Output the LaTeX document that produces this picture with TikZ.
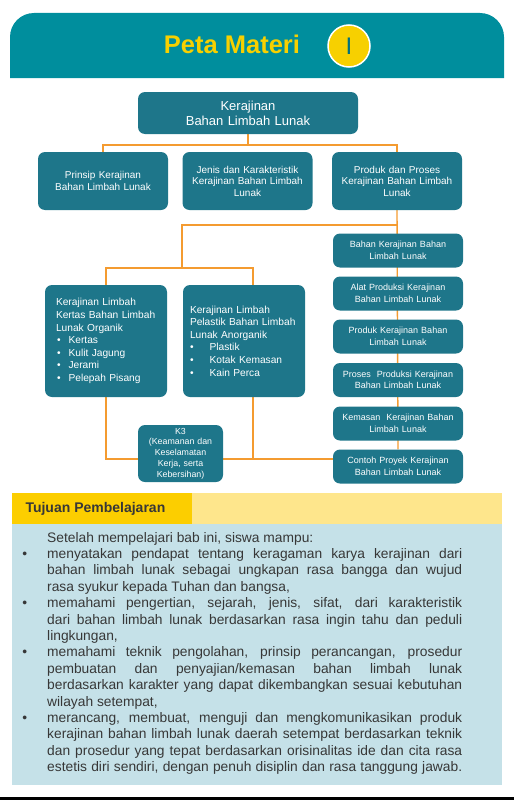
\documentclass[tikz,border=0pt]{standalone}
\usepackage{fontspec}
\setmainfont{Liberation Sans}
\usetikzlibrary{backgrounds}
\definecolor{tealjudul}{RGB}{0,142,157}
\definecolor{tealkotak}{RGB}{30,118,138}
\definecolor{kuning}{RGB}{247,208,0}
\definecolor{oranye}{RGB}{244,155,48}
\definecolor{kuningtua}{RGB}{252,206,0}
\definecolor{kuningmuda}{RGB}{254,230,140}
\definecolor{birumuda}{RGB}{197,225,232}
\definecolor{abutua}{RGB}{55,55,55}
\newcommand\butir{\leavevmode\llap{\textbullet\hspace{20pt}}}
\begin{document}
\begin{tikzpicture}[x=1pt,y=-1pt,
	kotak/.style={fill=tealkotak,rounded corners=7pt,text=white,align=center,inner sep=2pt},
	kecil/.style={kotak,minimum width=130pt,minimum height=34pt,text width=126pt,font=\fontsize{9}{11.5}\selectfont},
	sedang/.style={kotak,minimum width=130pt,minimum height=58pt,text width=126pt,font=\fontsize{10}{11.5}\selectfont},
	daftar/.style={kotak,align=left,minimum width=122pt,minimum height=112pt,inner xsep=7pt,text width=108pt,font=\fontsize{10.2}{12.6}\selectfont},
	garis/.style={draw=oranye,line width=1.4pt}]
	\useasboundingbox (0,0) rectangle (514,800);
	%Judul
	\fill[tealjudul] (10,78) [rounded corners=24pt] -- (10,13) -- (504,13) [sharp corners] -- (504,78) -- cycle;
	\node[text=kuning,font=\fontsize{25.5}{28}\bfseries\selectfont] (judul) at (232,44) {Peta Materi};
	\node[circle,fill=kuning,draw=white,line width=1.5pt,minimum size=42pt,inner sep=0pt,
		text=tealjudul!80!black,font=\fontsize{24}{24}\selectfont] (bab) at (349,46) {I};
	%Peta konsep
	\node[kotak,minimum width=220pt,minimum height=42pt,text width=214pt,font=\fontsize{13}{15}\selectfont] (root) at (248,113) {Kerajinan\\Bahan Limbah Lunak};
	\node[sedang] (prinsip) at (103,181) {Prinsip Kerajinan\\Bahan Limbah Lunak};
	\node[sedang] (jenis) at (247.5,181) {Jenis dan Karakteristik\\Kerajinan Bahan Limbah\\Lunak};
	\node[sedang] (produk) at (397,181) {Produk dan Proses\\Kerajinan Bahan Limbah\\Lunak};
	\node[daftar,inner xsep=11pt,text width=100pt] (organik) at (106,341) {Kerajinan Limbah\\Kertas Bahan Limbah\\Lunak Organik\\
		\hspace*{1pt}\textbullet\hspace{8pt}Kertas\\
		\hspace*{1pt}\textbullet\hspace{8pt}Kulit Jagung\\
		\hspace*{1pt}\textbullet\hspace{8pt}Jerami\\
		\hspace*{1pt}\textbullet\hspace{8pt}Pelepah Pisang};
	\node[daftar] (anorganik) at (244,341) {Kerajinan Limbah\\Pelastik Bahan Limbah\\Lunak Anorganik\\
		\textbullet\hspace{16pt}Plastik\\
		\textbullet\hspace{16pt}Kotak Kemasan\\
		\textbullet\hspace{16pt}Kain Perca};
	\node[kotak,minimum width=85pt,minimum height=57pt,text width=81pt,font=\fontsize{8.8}{10.7}\selectfont] (k3) at (180.5,453.5) {K3\\(Keamanan dan\\Keselamatan\\Kerja, serta\\Kebersihan)};
	\node[kecil] (bahan) at (398,250.5) {Bahan Kerajinan Bahan\\Limbah Lunak};
	\node[kecil] (alat) at (398,293.5) {Alat Produksi Kerajinan\\Bahan Limbah Lunak};
	\node[kecil] (hasil) at (398,336.5) {Produk Kerajinan Bahan\\Limbah Lunak};
	\node[kecil] (proses) at (398,380) {Proses\ \ Produksi Kerajinan\\Bahan Limbah Lunak};
	\node[kecil] (kemasan) at (398,423.5) {Kemasan\ \ Kerajinan Bahan\\Limbah Lunak};
	\node[kecil] (contoh) at (398,466.5) {Contoh Proyek Kerajinan\\Bahan Limbah Lunak};
	\coordinate (c1) at (248,145);
	\coordinate (c2) at (397,225);
	\coordinate (c3) at (182,268);
	\coordinate (c4) at (253,459);
	\begin{pgfonlayer}{background}
		\draw[garis] (root.south) -- (c1);
		\draw[garis] (prinsip.north) |- (c1) -| (produk.north);
		\draw[garis] (produk.south) -- (contoh.north);
		\draw[garis] (c2) -| (c3);
		\draw[garis] (organik.north) |- (c3) -| ([xshift=9pt]anorganik.north);
		\draw[garis] (organik.south) |- (k3.west |- c4);
		\draw[garis] ([xshift=9pt]anorganik.south) -- (c4);
		\draw[garis] (k3.east |- c4) -- (contoh.west |- c4);
	\end{pgfonlayer}
	%Tujuan pembelajaran
	\fill[kuningtua] (12,493) rectangle (192,524);
	\fill[kuningmuda] (192,493) rectangle (502,524);
	\fill[birumuda] (12,524) rectangle (502,785);
	\node[anchor=west,text=abutua,font=\fontsize{14}{16}\bfseries\selectfont] (tujuan) at (22,509) {Tujuan Pembelajaran};
	\node[anchor=base west,inner sep=0pt,text width=437pt,align=justify,text=abutua,
		font=\fontsize{13.8}{16.4}\selectfont] (isi) at (25,542) {%
		\leftskip=22pt\parindent=0pt
		Setelah mempelajari bab ini, siswa mampu:\par
		\butir menyatakan pendapat tentang keragaman karya kerajinan dari\linebreak
		bahan limbah lunak sebagai ungkapan rasa bangga dan wujud\linebreak
		rasa syukur kepada Tuhan dan bangsa,\par
		\butir memahami pengertian, sejarah, jenis, sifat, dari karakteristik\linebreak
		dari bahan limbah lunak berdasarkan rasa ingin tahu dan peduli\linebreak
		lingkungan,\par
		\butir memahami teknik pengolahan, prinsip perancangan, prosedur\linebreak
		pembuatan dan penyajian/kemasan bahan limbah lunak\linebreak
		berdasarkan karakter yang dapat dikembangkan sesuai kebutuhan\linebreak
		wilayah setempat,\par
		{\parfillskip=0pt
		\butir merancang, membuat, menguji dan mengkomunikasikan produk\linebreak
		kerajinan bahan limbah lunak daerah setempat berdasarkan teknik\linebreak
		dan prosedur yang tepat berdasarkan orisinalitas ide dan cita rasa\linebreak
		estetis diri sendiri, dengan penuh disiplin dan rasa tanggung jawab.\par}};
	\fill[black] (0,797) rectangle (514,800);
\end{tikzpicture}
\end{document}
